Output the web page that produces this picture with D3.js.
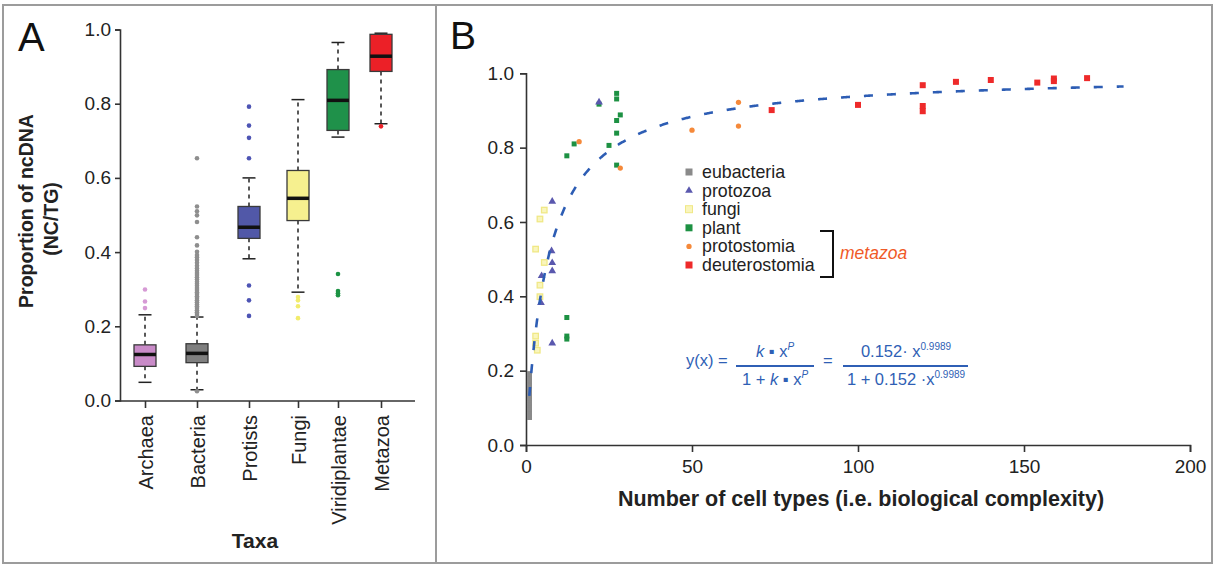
<html>
<head>
<meta charset="utf-8">
<script src="https://cdn.jsdelivr.net/npm/d3@7"></script>
<style>
body { margin: 0; background: #fff; }
text { font-family: "Liberation Sans", Arial, Helvetica, sans-serif; }
</style>
</head>
<body>
<svg id="chart" width="1215" height="566"></svg>
<script>
// ---- panel A: boxplot of ncDNA proportion by taxa ----
var taxa = ["Archaea", "Bacteria", "Protists", "Fungi", "Viridiplantae", "Metazoa"];
var whiskerLo = [0.049, 0.029, 0.382, 0.292, 0.710, 0.746];
var q1 = [0.092, 0.102, 0.437, 0.485, 0.728, 0.887];
var median = [0.124, 0.127, 0.467, 0.545, 0.809, 0.928];
var q3 = [0.150, 0.153, 0.523, 0.620, 0.892, 0.987];
var whiskerHi = [0.231, 0.225, 0.600, 0.811, 0.965, 0.990];
var outliers = [
    [0.249, 0.267, 0.299],
    [0.025, 0.228, 0.233, 0.238, 0.243, 0.249, 0.254, 0.259, 0.265, 0.27, 0.276, 0.281, 0.287, 0.292,
     0.298, 0.303, 0.309, 0.315, 0.32, 0.326, 0.332, 0.338, 0.344, 0.35, 0.356, 0.363, 0.371, 0.379,
     0.386, 0.392, 0.401, 0.418, 0.44, 0.481, 0.499, 0.51, 0.523, 0.653],
    [0.228, 0.27, 0.31, 0.653, 0.708, 0.741, 0.792],
    [0.222, 0.254, 0.27, 0.279],
    [0.284, 0.289, 0.295, 0.341],
    [0.739]
];
var yTicksA = [0, 0.2, 0.4, 0.6, 0.8, 1.0];

// ---- panel B: cell types vs ncDNA ----
var groups = ["eubacteria", "protozoa", "fungi", "plant", "protostomia", "deuterostomia"];
var eubacteriaY = [0.074, 0.079, 0.083, 0.088, 0.093, 0.097, 0.102, 0.108, 0.112, 0.117, 0.121, 0.127,
                   0.131, 0.136, 0.142, 0.147, 0.151, 0.156, 0.162, 0.167, 0.171, 0.176, 0.182, 0.187, 0.192];
var protozoaPts = [[7.9, 0.655], [7.7, 0.522], [7.9, 0.49], [7.9, 0.468], [4.7, 0.455], [4.5, 0.383],
                   [7.9, 0.274], [22, 0.922]];
var fungiPts = [[5.5, 0.632], [4.2, 0.608], [2.9, 0.527], [5.5, 0.491], [4.2, 0.43], [4.2, 0.399],
                [2.9, 0.293], [2.9, 0.274], [3.4, 0.255]];
var plantPts = [[12.3, 0.778], [14.5, 0.81], [22, 0.917], [25, 0.806], [27.3, 0.946], [27.3, 0.931],
                [27.3, 0.873], [28.4, 0.888], [27.3, 0.839], [27.3, 0.753], [12.3, 0.343], [12.3, 0.293],
                [12.3, 0.285]];
var protostomiaPts = [[16, 0.816], [28.4, 0.745], [50, 0.847], [64, 0.922], [64, 0.858]];
var deuterostomiaPts = [[74, 0.901], [100, 0.915], [119.5, 0.968], [119.5, 0.912], [119.5, 0.898],
                        [129.5, 0.977], [140, 0.982], [154, 0.975], [159, 0.986], [159, 0.979], [169, 0.987]];
var fitK = 0.152, fitP = 0.9989;   // y = k*x^p / (1 + k*x^p)
var xTicksB = [0, 50, 100, 150, 200];
var yTicksB = [0, 0.2, 0.4, 0.6, 0.8, 1.0];

var svg = d3.select("#chart");
var ink = "#222";

// frame
svg.append("rect").attr("x", 3).attr("y", 5).attr("width", 1209).attr("height", 558)
    .attr("fill", "none").attr("stroke", "#9c9c9c").attr("stroke-width", 2);
svg.append("line").attr("x1", 436).attr("x2", 436).attr("y1", 5).attr("y2", 563)
    .attr("stroke", "#9c9c9c").attr("stroke-width", 2);

// ================= panel A =================
var boxFill = ["#c98bc8", "#7f7f7f", "#5158a8", "#f6f08f", "#1f914a", "#ec2027"];
var dotFill = ["#d69ad5", "#8e8e8e", "#4d54b4", "#f2ec6c", "#1c9344", "#ec2027"];

var yA = d3.scaleLinear().domain([0, 1]).range([400.5, 29.5]);
var xA = d3.scaleOrdinal().domain(taxa).range([145, 197, 249, 298, 338, 381]);

var gAy = svg.append("g").attr("transform", "translate(120,0)")
    .call(d3.axisLeft(yA).tickValues(yTicksA).tickFormat(d3.format(".1f")).tickSize(5).tickPadding(4));
var gAx = svg.append("g").attr("transform", "translate(0,401)")
    .call(d3.axisBottom(xA).tickSize(7).tickPadding(6));
gAx.select(".domain").remove();
gAx.append("line").attr("x1", 120).attr("x2", 415).attr("stroke", "#333").attr("stroke-width", 1.6);
gAx.selectAll(".tick text")
    .attr("transform", "rotate(-90)")
    .attr("text-anchor", "end")
    .attr("x", -14).attr("y", 0).attr("dy", "0.36em")
    .attr("font-size", 20).attr("fill", ink);
gAy.selectAll(".tick text").attr("font-size", 19).attr("fill", ink);
[gAy, gAx].forEach(function(g){
    g.selectAll("path,line").attr("stroke", "#333").attr("stroke-width", 1.6);
});

var bw = 22, cap = 13;
taxa.forEach(function(t, i){
    var cx = xA(t);
    var g = svg.append("g");
    // whiskers
    [[q3[i], whiskerHi[i]], [q1[i], whiskerLo[i]]].forEach(function(w){
        g.append("line").attr("x1", cx).attr("x2", cx).attr("y1", yA(w[0])).attr("y2", yA(w[1]))
            .attr("stroke", "#222").attr("stroke-width", 1.5).attr("stroke-dasharray", "4,4");
        g.append("line").attr("x1", cx - cap / 2).attr("x2", cx + cap / 2).attr("y1", yA(w[1])).attr("y2", yA(w[1]))
            .attr("stroke", "#222").attr("stroke-width", 1.5);
    });
    g.append("rect").attr("x", cx - bw / 2).attr("width", bw)
        .attr("y", yA(q3[i])).attr("height", yA(q1[i]) - yA(q3[i]))
        .attr("fill", boxFill[i]).attr("stroke", "#3a3a3a").attr("stroke-width", 1.3);
    g.append("line").attr("x1", cx - bw / 2).attr("x2", cx + bw / 2)
        .attr("y1", yA(median[i])).attr("y2", yA(median[i]))
        .attr("stroke", "#111").attr("stroke-width", 3.5);
    g.selectAll("circle").data(outliers[i]).enter().append("circle")
        .attr("cx", cx).attr("cy", function(d){ return yA(d); }).attr("r", 2.3)
        .attr("fill", dotFill[i]);
});

svg.append("text").attr("x", 18).attr("y", 51).attr("font-size", 40).attr("fill", "#111").text("A");
var yTitle = svg.append("text").attr("transform", "translate(33,211) rotate(-90)")
    .attr("text-anchor", "middle").attr("font-size", 19.5).attr("font-weight", "bold").attr("fill", ink);
yTitle.append("tspan").attr("x", 0).attr("y", 0).text("Proportion of ncDNA");
yTitle.append("tspan").attr("x", -8).attr("y", 25).text("(NC/TG)");
svg.append("text").attr("x", 255).attr("y", 548).attr("text-anchor", "middle")
    .attr("font-size", 21).attr("font-weight", "bold").attr("fill", ink).text("Taxa");

// ================= panel B =================
var xB = d3.scaleLinear().domain([0, 200]).range([526, 1190]);
var yB = d3.scaleLinear().domain([0, 1]).range([445, 73.3]);

var gBx = svg.append("g").attr("transform", "translate(0,445)")
    .call(d3.axisBottom(xB).tickValues(xTicksB).tickSizeOuter(0).tickSize(7).tickPadding(8));
var gBy = svg.append("g").attr("transform", "translate(526,0)")
    .call(d3.axisLeft(yB).tickValues(yTicksB).tickFormat(d3.format(".1f")).tickSizeOuter(0).tickSize(6).tickPadding(6));
[gBx, gBy].forEach(function(g){
    g.selectAll("path,line").attr("stroke", "#333").attr("stroke-width", 1.6);
    g.selectAll(".tick text").attr("font-size", 19).attr("fill", ink);
});

svg.append("text").attr("x", 450).attr("y", 48.5).attr("font-size", 39).attr("fill", "#111").text("B");
svg.append("text").attr("x", 861).attr("y", 506).attr("text-anchor", "middle")
    .attr("font-size", 21.5).attr("font-weight", "bold").attr("fill", ink)
    .text("Number of cell types (i.e. biological complexity)");

var markStyle = {
    eubacteria: {fill: "#8a8a8a"},
    protozoa: {fill: "#5a58ae"},
    fungi: {fill: "#f9f5bd", stroke: "#f0e886"},
    plant: {fill: "#1d9143"},
    protostomia: {fill: "#f5893a"},
    deuterostomia: {fill: "#ee2a2a"}
};
var triangle = d3.symbol().type(d3.symbolTriangle).size(26);
var circle = d3.symbol().type(d3.symbolCircle).size(22);

function drawSquares(pts, st, s){
    svg.append("g").selectAll("rect").data(pts).enter().append("rect")
        .attr("x", function(d){ return xB(d[0]) - s / 2; })
        .attr("y", function(d){ return yB(d[1]) - s / 2; })
        .attr("width", s).attr("height", s)
        .attr("fill", st.fill).attr("stroke", st.stroke || "none").attr("stroke-width", 1.3);
}
function drawSymbols(pts, st, sym){
    svg.append("g").selectAll("path").data(pts).enter().append("path")
        .attr("d", sym)
        .attr("transform", function(d){ return "translate(" + xB(d[0]) + "," + yB(d[1]) + ")"; })
        .attr("fill", st.fill);
}

drawSquares(eubacteriaY.map(function(y){ return [1.05, y]; }), markStyle.eubacteria, 5);
drawSquares(fungiPts, markStyle.fungi, 5.5);
drawSquares(plantPts, markStyle.plant, 5);
drawSymbols(protostomiaPts, markStyle.protostomia, circle);
drawSquares(deuterostomiaPts, markStyle.deuterostomia, 6);
drawSymbols(protozoaPts, markStyle.protozoa, triangle);

// fitted curve
var fitX = d3.range(1, 180.01, 0.25);
var fitLine = d3.line()
    .x(function(d){ return xB(d); })
    .y(function(d){ var v = fitK * Math.pow(d, fitP); return yB(v / (1 + v)); });
svg.append("path").datum(fitX).attr("d", fitLine)
    .attr("fill", "none").attr("stroke", "#2d5db4").attr("stroke-width", 2.6)
    .attr("stroke-dasharray", "9,14");

// legend
var legend = svg.append("g").attr("transform", "translate(689,172)");
groups.forEach(function(name, i){
    var row = legend.append("g").attr("transform", "translate(0," + (i * 18.6) + ")");
    var st = markStyle[name];
    if (name === "protozoa") {
        row.append("path").attr("d", triangle).attr("fill", st.fill);
    } else if (name === "protostomia") {
        row.append("path").attr("d", circle).attr("fill", st.fill);
    } else {
        row.append("rect").attr("x", -3.5).attr("y", -3.5).attr("width", 7).attr("height", 7)
            .attr("fill", st.fill).attr("stroke", st.stroke || "none");
    }
    row.append("text").attr("x", 13).attr("y", 6).attr("font-size", 17.8).attr("fill", ink).text(name);
});
svg.append("path").attr("d", "M820,231H833V277H820")
    .attr("fill", "none").attr("stroke", "#111").attr("stroke-width", 2);
svg.append("text").attr("x", 840).attr("y", 259).attr("font-size", 17.5)
    .attr("font-style", "italic").attr("fill", "#f05a28").text("metazoa");

// equation
var eqCol = "#2f5fb5";
var eq = svg.append("g").attr("fill", eqCol).attr("font-size", 16.5);
eq.append("text").attr("x", 686).attr("y", 366).text("y(x) =");
eq.append("text").attr("x", 823).attr("y", 366).text("=");
function fraction(cx, x1, x2, top, bottom){
    var t = eq.append("text").attr("x", cx).attr("y", 357).attr("text-anchor", "middle");
    top(t);
    var b = eq.append("text").attr("x", cx).attr("y", 385).attr("text-anchor", "middle");
    bottom(b);
    eq.append("line").attr("x1", x1).attr("x2", x2).attr("y1", 366).attr("y2", 366)
        .attr("stroke", eqCol).attr("stroke-width", 2);
}
fraction(775, 736, 814, function(t){
    t.append("tspan").attr("font-style", "italic").text("k");
    t.append("tspan").text("  \u25aa x");
    t.append("tspan").attr("font-size", 10).attr("font-style", "italic").attr("dy", -7).text("P");
}, function(b){
    b.append("tspan").text("1 + ");
    b.append("tspan").attr("font-style", "italic").text("k");
    b.append("tspan").text("  \u25aa x");
    b.append("tspan").attr("font-size", 10).attr("font-style", "italic").attr("dy", -7).text("P");
});
fraction(906, 843, 968, function(t){
    t.append("tspan").text("0.152\u00b7  x");
    t.append("tspan").attr("font-size", 10).attr("dy", -7).text("0.9989");
}, function(b){
    b.append("tspan").text("1 + 0.152 \u00b7x");
    b.append("tspan").attr("font-size", 10).attr("dy", -7).text("0.9989");
});
</script>
</body>
</html>
